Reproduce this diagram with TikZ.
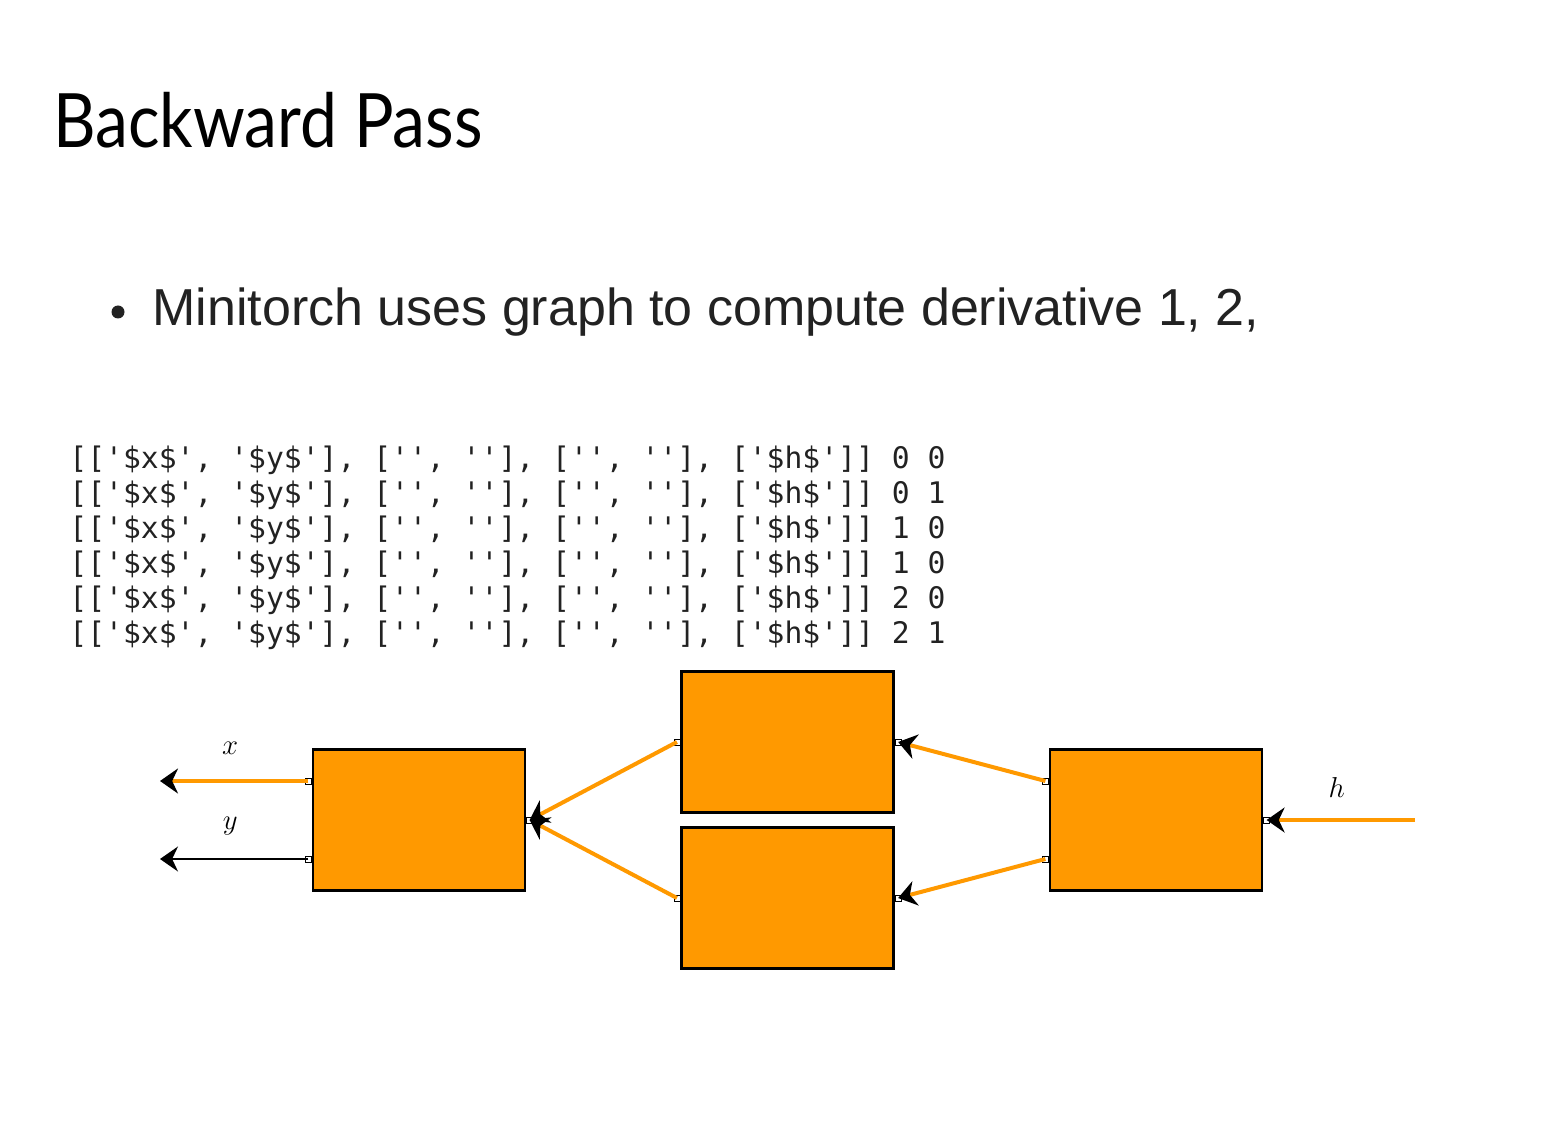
\documentclass[tikz,border=0pt]{standalone}
\usepackage{fontspec}
\usetikzlibrary{positioning, arrows.meta}
\newfontfamily\titlefont[FakeStretch=0.88]{Lato}
\newfontfamily\bodyfont{Liberation Sans}
\newfontfamily\codefont[Ligatures=TeXOff]{DejaVu Sans Mono}
\definecolor{gorange}{HTML}{FF9900}
\definecolor{inkgray}{HTML}{222222}

\begin{document}
\begin{tikzpicture}[%
		x=0.5pt, y=-0.5pt,
		opbox/.style={
			rectangle,
			minimum width=106pt,
			minimum height=70.5pt,
			inner sep=0pt,
			line width=1.2pt,
			fill=gorange,
			draw=black
		},
		port/.style={
			rectangle,
			minimum size=3pt,
			inner sep=0pt,
			line width=0.4pt,
			fill=white,
			draw=black
		},
		gradarrow/.style={
			gorange,
			line width=2pt,
			-{Stealth[black, length=9pt, width=12.5pt]}
		},
		plainarrow/.style={
			black,
			line width=0.75pt,
			-{Stealth[black, length=9pt, width=12.5pt]}
		},
		varlabel/.style={
			midway,
			yshift=16.5pt,
			xshift=-2pt,
			text=black,
			font=\fontsize{14}{16}\selectfont
		}]

		\useasboundingbox (0,0) rectangle (1561,1138);

		% SLIDE TEXT

		\node (title) [anchor=base west, inner sep=0pt, font=\titlefont\fontsize{37.5}{40}\selectfont] at (53,148) {Backward Pass};
		\node (dot) [circle, minimum size=6.5pt, inner sep=0pt, fill=inkgray] at (118,312) {};
		\node (item) [anchor=base west, inner sep=0pt, text=inkgray, font=\bodyfont\fontsize{26}{30}\selectfont] at (152,326) {Minitorch uses graph to compute derivative 1, 2,};
		% base of a multi-line node is its last line
		\node (trace) [anchor=base west, inner sep=0pt, align=left, text=inkgray, font=\codefont\fontsize{14.85}{17.5}\selectfont] at (69,643) {%
			{[}['\$x\$', '\$y\$'], ['', ''], ['', ''], ['\$h\$']] 0 0\\
			{[}['\$x\$', '\$y\$'], ['', ''], ['', ''], ['\$h\$']] 0 1\\
			{[}['\$x\$', '\$y\$'], ['', ''], ['', ''], ['\$h\$']] 1 0\\
			{[}['\$x\$', '\$y\$'], ['', ''], ['', ''], ['\$h\$']] 1 0\\
			{[}['\$x\$', '\$y\$'], ['', ''], ['', ''], ['\$h\$']] 2 0\\
			{[}['\$x\$', '\$y\$'], ['', ''], ['', ''], ['\$h\$']] 2 1};

		% BOXES

		\node (fn1) [opbox] at (419,820) {};
		\node (fn2up) [opbox] at (787.5,742) {};
		\node (fn2low) [opbox] at (787.5,898) {};
		\node (fn3) [opbox] at (1156,820) {};

		% PORTS

		\node (fn1-x) [port, anchor=east] at ([yshift=19.5pt]fn1.west) {};
		\node (fn1-y) [port, anchor=east] at ([yshift=-19.5pt]fn1.west) {};
		\node (fn1-out) [port, anchor=west] at (fn1.east) {};
		\node (fn2up-in) [port, anchor=east] at (fn2up.west) {};
		\node (fn2up-out) [port, anchor=west] at (fn2up.east) {};
		\node (fn2low-in) [port, anchor=east] at (fn2low.west) {};
		\node (fn2low-out) [port, anchor=west] at (fn2low.east) {};
		\node (fn3-up) [port, anchor=east] at ([yshift=19.5pt]fn3.west) {};
		\node (fn3-low) [port, anchor=east] at ([yshift=-19.5pt]fn3.west) {};
		\node (fn3-out) [port, anchor=west] at (fn3.east) {};

		\coordinate (x-end) at (160,781);
		\coordinate (y-end) at (160,859);
		\coordinate (h-start) at (1415,820);

		% LINES

		\draw[gradarrow] (fn1-x.center) -- node[varlabel] {$x$} (x-end);
		\draw[plainarrow] (fn1-y.center) -- node[varlabel] {$y$} (y-end);
		\draw[gradarrow] (fn2up-in.center) -- (fn1-out.center);
		\draw[gradarrow] (fn2low-in.center) -- (fn1-out.center);
		\draw[gradarrow] (fn3-up.center) -- (fn2up-out.center);
		\draw[gradarrow] (fn3-low.center) -- (fn2low-out.center);
		\draw[gradarrow] (h-start) -- node[varlabel] {$h$} (fn3-out.center);
\end{tikzpicture}
\end{document}
